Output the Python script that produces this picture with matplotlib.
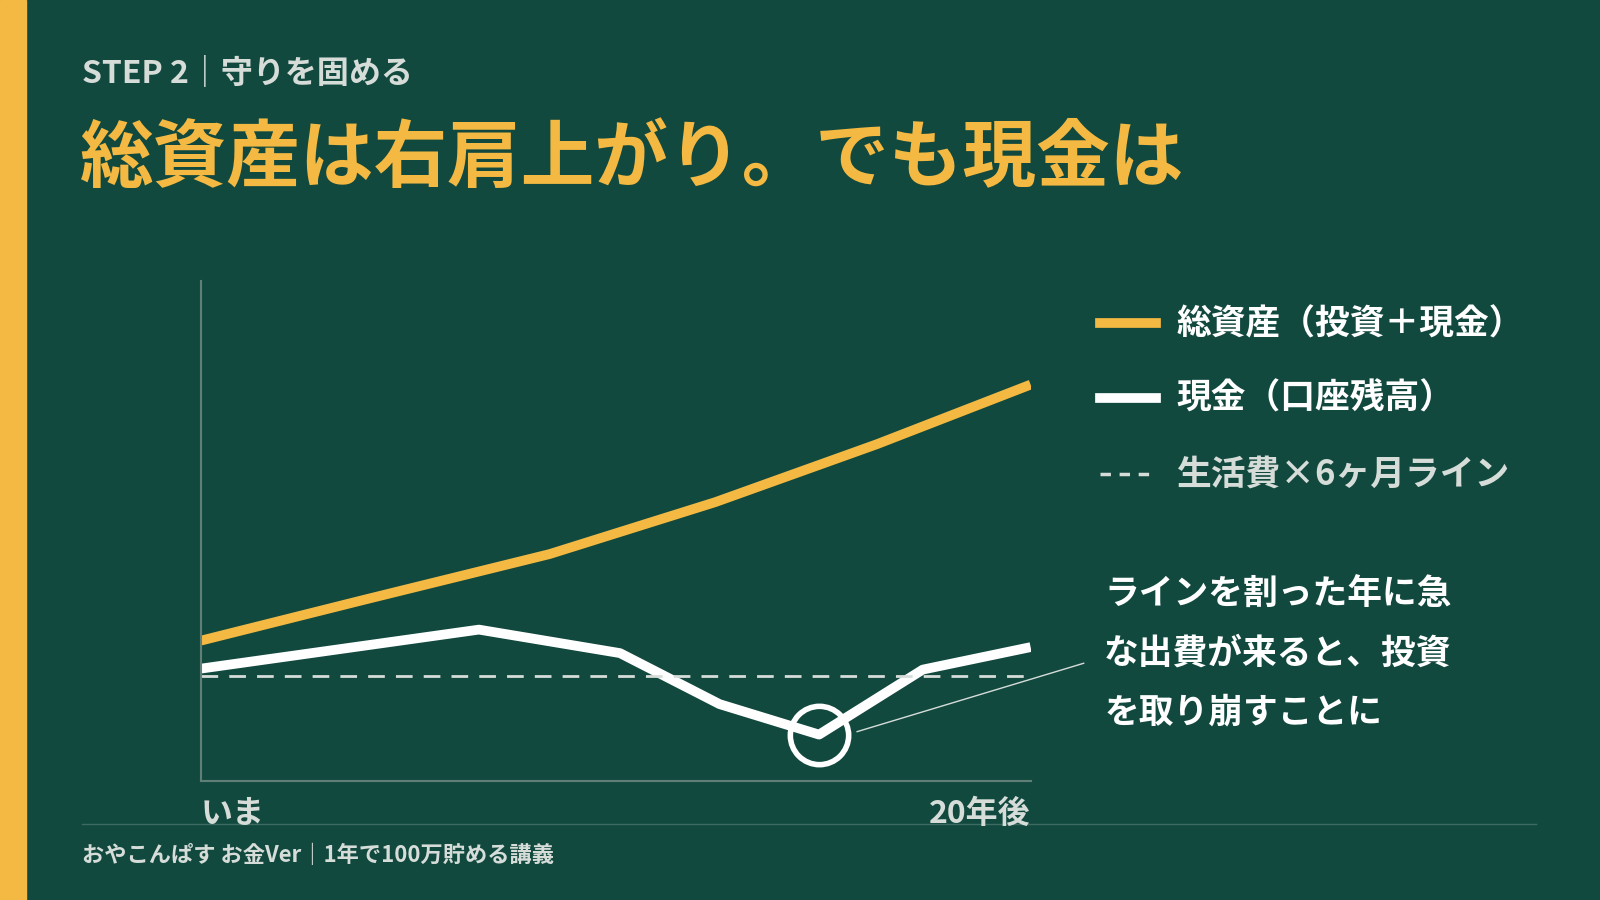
import matplotlib.pyplot as plt
from matplotlib.lines import Line2D

plt.rcParams['font.family'] = ['Noto Sans CJK JP', 'DejaVu Sans']

BG = "#12493f"
GOLD = "#f4b942"
WHITE = "#ffffff"
GREY = "#d6ddd9"

# データ（年, 指数）
total_years = [0, 3.9, 8.4, 12.4, 16.3, 20]
total_values = [28, 36.1, 45.3, 55.7, 67.3, 79.2]

cash_years = [0, 6.7, 10.1, 12.5, 14.9, 17.4, 20]
cash_values = [22.4, 30.2, 25.5, 15.3, 9.2, 22.2, 26.7]

line_value = 21.0
dip_year, dip_value = 14.9, 9.2

W, H = 1568, 882


def fx(px):
    return px / W


def fy(py):
    return 1 - py / H


fig = plt.figure(figsize=(16, 9), dpi=100, facecolor=BG)

# 左の黄色い帯
fig.patches.append(plt.Rectangle((0, 0), fx(25), 1, transform=fig.transFigure,
                                 color=GOLD, zorder=0))

ax = fig.add_axes([fx(197), fy(765), fx(1010) - fx(197), fy(275) - fy(765)])
ax.set_facecolor(BG)
ax.plot(total_years, total_values, color=GOLD, lw=7, solid_capstyle="butt")
ax.plot(cash_years, cash_values, color=WHITE, lw=7, solid_capstyle="butt")
ax.axhline(line_value, color=GREY, lw=2, ls=(0, (6, 4)))
ax.plot([dip_year], [dip_value], "o", ms=42, mfc="none", mec=WHITE, mew=4)
ax.set_xlim(0, 20)
ax.set_ylim(0, 100)
ax.set_xticks([])
ax.set_yticks([])
for s in ["top", "right"]:
    ax.spines[s].set_visible(False)
for s in ["left", "bottom"]:
    ax.spines[s].set_color("#5f7f77")
    ax.spines[s].set_linewidth(1.5)

# 見出し
fig.text(fx(80), fy(72), "STEP 2｜守りを固める", color=GREY, fontsize=23,
         fontweight="bold", va="center")
fig.text(fx(78), fy(157), "総資産は右肩上がり。でも現金は", color=GOLD, fontsize=53,
         fontweight="bold", va="center")

# 凡例
legend_items = [
    ("総資産（投資＋現金）", GOLD, "-", 317),
    ("現金（口座残高）", WHITE, "-", 390),
    ("生活費×6ヶ月ライン", GREY, "--", 465),
]
for label, color, ls, py in legend_items:
    lw = 7 if ls == "-" else 2.5
    fig.add_artist(Line2D([fx(1078), fx(1133)], [fy(py), fy(py)], color=color,
                          lw=lw, ls=ls if ls == "-" else (0, (3, 2.5)),
                          transform=fig.transFigure))
    fig.text(fx(1153), fy(py), label, color=WHITE if ls == "-" else GREY,
             fontsize=25, fontweight="bold", va="center")

# 注記
fig.text(fx(1082), fy(582), "ラインを割った年に急", color=WHITE, fontsize=25,
         fontweight="bold", va="center")
fig.text(fx(1082), fy(640), "な出費が来ると、投資", color=WHITE, fontsize=25,
         fontweight="bold", va="center")
fig.text(fx(1082), fy(698), "を取り崩すことに", color=WHITE, fontsize=25,
         fontweight="bold", va="center")
fig.add_artist(Line2D([fx(840), fx(1062)], [fy(717), fy(650)], color=GREY, lw=1,
                      transform=fig.transFigure))

# 軸ラベル
fig.text(fx(197), fy(798), "いま", color=GREY, fontsize=23, fontweight="bold",
         va="center")
fig.text(fx(1010), fy(798), "20年後", color=GREY, fontsize=23, fontweight="bold",
         va="center", ha="right")

# フッター
fig.add_artist(Line2D([fx(80), fx(1505)], [fy(808), fy(808)], color="#3d6b61",
                      lw=1, transform=fig.transFigure))
fig.text(fx(80), fy(838), "おやこんぱす お金Ver｜1年で100万貯める講義", color=GREY,
         fontsize=16, fontweight="bold", va="center")

fig.savefig("out.png", dpi=100, facecolor=BG)
